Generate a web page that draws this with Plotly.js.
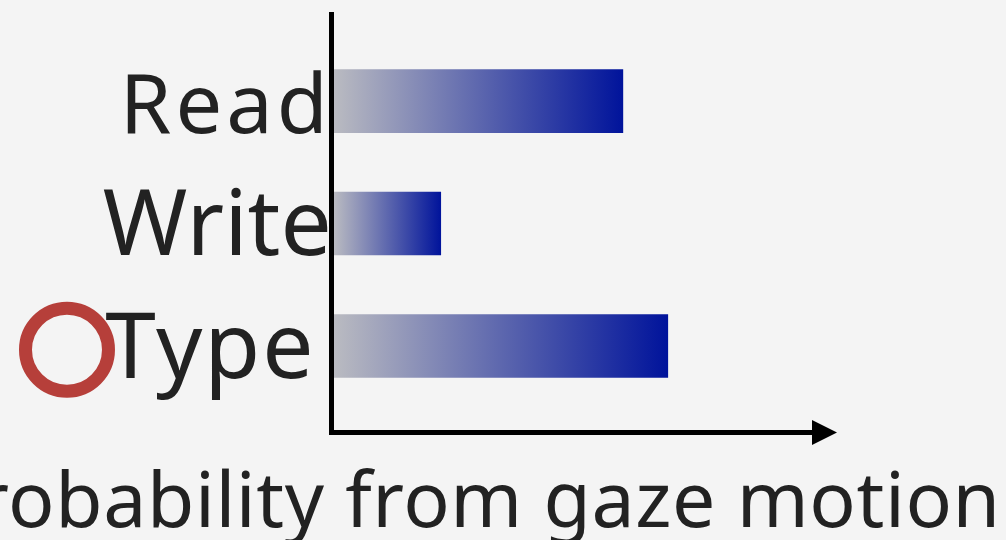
<!DOCTYPE html>
<html>
<head>
<meta charset="utf-8">
<script src="https://cdn.plot.ly/plotly-3.0.1.min.js"></script>
<style>
  html, body { margin: 0; padding: 0; background: #f4f4f4; }
  #chart { width: 1006px; height: 540px; }
</style>
</head>
<body>
<div id="chart"></div>
<script>
// Activities, bottom to top, and the probability of each one estimated from gaze motion
const activities = ['Type', 'Write', 'Read'];
const probabilities = [0.699, 0.224, 0.605];
const labelSizes = [91, 91, 83];
const labelSpacing = [2, 0, 4];
const labelTrail = [16, 0, 0];
const axisTitle = 'Probability from gaze motion';

const barHalf = 0.26;
const textColor = '#222222';
const bgColor = '#f4f4f4';
const gradientScale = [[0, '#babbc1'], [1, '#00139b']];

// Each bar is a filled outline so it can carry its own left-to-right gradient
const traces = activities.map((name, i) => {
  const v = probabilities[i];
  return {
    type: 'scatter',
    mode: 'lines',
    name: name,
    x: [0, v, v, 0, 0],
    y: [i - barHalf, i - barHalf, i + barHalf, i + barHalf, i - barHalf],
    fill: 'toself',
    fillgradient: { type: 'horizontal', colorscale: gradientScale },
    line: { width: 0, color: 'rgba(0,0,0,0)' },
    hoverinfo: 'skip',
    showlegend: false
  };
});

const tickText = activities.map((name, i) => {
  let t = '<span style="font-size:' + labelSizes[i] + 'px;letter-spacing:' +
    labelSpacing[i] + 'px">' + name + '</span>';
  if (labelTrail[i]) {
    t += '<span style="font-size:' + Math.round(labelTrail[i] / 0.26) + 'px">\u00A0</span>';
  }
  return t;
});

const layout = {
  width: 1006,
  height: 540,
  margin: { l: 334, r: 194, t: 12, b: 110 },
  paper_bgcolor: bgColor,
  plot_bgcolor: bgColor,
  font: { family: '"Noto Sans", "Open Sans", sans-serif', color: textColor },
  showlegend: false,
  xaxis: {
    range: [0, 1],
    showline: true,
    linewidth: 5,
    linecolor: '#000000',
    showgrid: false,
    zeroline: false,
    showticklabels: false,
    ticks: '',
    fixedrange: true
  },
  yaxis: {
    range: [-0.686, 2.727],
    showline: true,
    linewidth: 5,
    linecolor: '#000000',
    showgrid: false,
    zeroline: false,
    ticks: '',
    tickvals: activities.map((_, i) => i),
    ticktext: tickText,
    tickfont: { size: 91, color: textColor },
    ticklabelstandoff: -21,
    fixedrange: true
  },
  shapes: [
    {
      // red ring marking the selected activity
      type: 'circle',
      xref: 'paper', yref: 'paper',
      x0: -0.6454, x1: -0.4718,
      y0: 0.0928, y1: 0.2914,
      line: { color: '#b63f3a', width: 13 },
      fillcolor: 'rgba(0,0,0,0)'
    }
  ],
  annotations: [
    {
      // arrowhead closing the horizontal axis
      xref: 'paper', yref: 'paper',
      x: 1.0523, y: -0.006,
      ax: -40, ay: 0,
      text: '',
      showarrow: true,
      arrowhead: 2,
      arrowsize: 1,
      arrowwidth: 5,
      arrowcolor: '#000000'
    },
    {
      xref: 'paper', yref: 'paper',
      x: (1003 - 334) / 478, y: -0.0302,
      xanchor: 'right', yanchor: 'top',
      text: '<span style="letter-spacing:0.6px">' + axisTitle + '</span>',
      showarrow: false,
      font: { size: 77, color: textColor }
    }
  ]
};

Plotly.newPlot('chart', traces, layout, { displayModeBar: false, staticPlot: true });
</script>
</body>
</html>
